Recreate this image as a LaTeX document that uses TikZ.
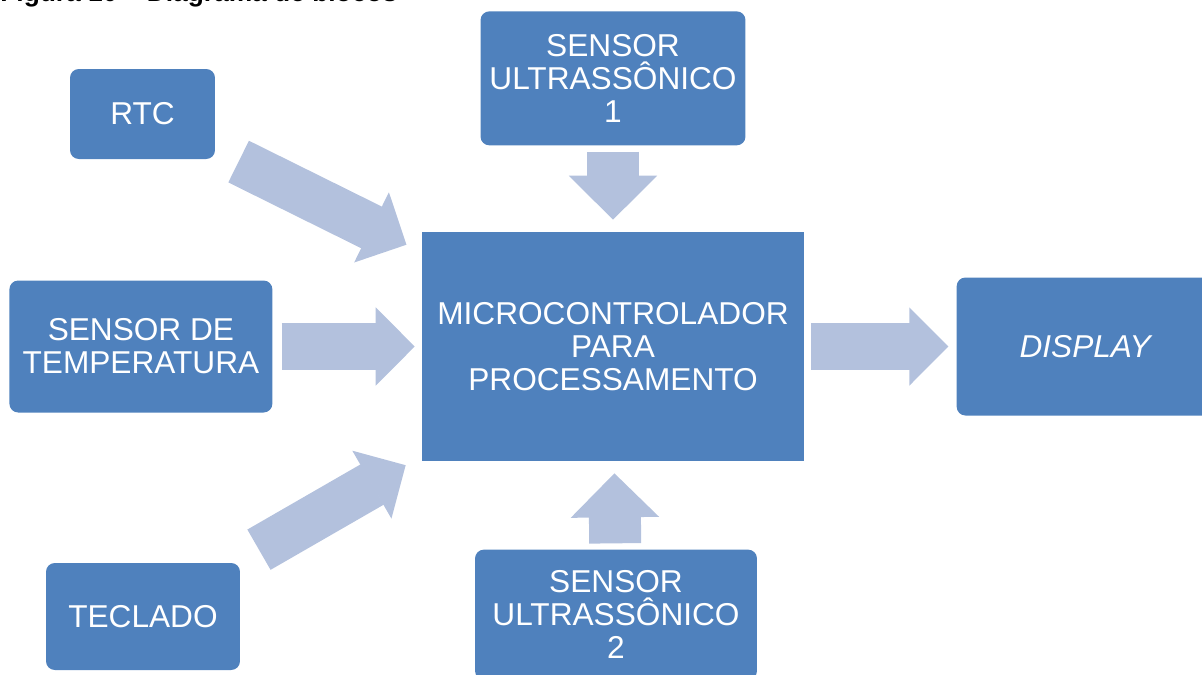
\documentclass[tikz,border=0pt]{standalone}
\usepackage{fontspec}
\setmainfont{Liberation Sans}
\usetikzlibrary{arrows.meta,positioning}
\definecolor{azul}{HTML}{4F81BD}
\definecolor{azulClaro}{HTML}{B3C1DD}
\tikzset{
  bloco/.style={fill=azul, rounded corners=5pt, inner sep=0pt, align=center,
                font=\fontsize{18}{18.7}\selectfont\color{white}},
  seta/.style={draw=azulClaro, line width=0.93cm,
               -{Triangle[length=0.78cm 0 0, width=1.56cm 0 0, line width=1.2pt 0 0]}},
  setaV/.style={draw=azulClaro, line width=1.04cm,
               -{Triangle[length=0.88cm 0 0, width=1.76cm 0 0, line width=1.2pt 0 0]}}
}

\begin{document}
\begin{tikzpicture}[x=0.02cm, y=-0.02cm]
    \useasboundingbox (0,0) rectangle (1202,674);
    \node[anchor=base west, inner sep=0pt, font=\fontsize{15}{15}\selectfont\bfseries]
        (titulo) at (0,1.5) {Figura 10 – Diagrama de blocos};

    \node[bloco, rounded corners=0pt, minimum width=7.64cm, minimum height=4.58cm]
        (micro) at (613,346.5) {MICROCONTROLADOR\\PARA\\PROCESSAMENTO};
    \node[bloco, minimum width=5.3cm, minimum height=2.68cm, above=1.72cm of micro]
        (us1) {SENSOR\\ULTRASSÔNICO\\1};
    \node[bloco, minimum width=5.64cm, minimum height=2.6cm, below=1.76cm of micro, xshift=0.06cm]
        (us2) {SENSOR\\ULTRASSÔNICO\\2};
    \node[bloco, minimum width=5.18cm, minimum height=2.76cm, right=3.04cm of micro]
        (display) {\textit{DISPLAY}};
    \node[bloco, minimum width=5.26cm, minimum height=2.64cm, left=2.98cm of micro]
        (temp) {SENSOR DE\\TEMPERATURA};
    \node[bloco, minimum width=2.9cm, minimum height=1.8cm] (rtc) at (142.5,114) {RTC};
    \node[bloco, minimum width=3.88cm, minimum height=2.14cm] (teclado) at (143,616.5) {TECLADO};

    \draw[seta, shorten <=0.52cm, shorten >=0.34cm] (rtc) -- (micro);
    \draw[seta, shorten <=0.18cm, shorten >=0.14cm] (temp) -- (micro);
    \draw[seta, shorten <=0.52cm, shorten >=0.37cm] (teclado) -- (micro);
    \draw[setaV, shorten <=0.12cm, shorten >=0.24cm] (us1) -- (micro);
    \draw[setaV, shorten <=0.12cm, shorten >=0.24cm] (us2) -- (micro);
    \draw[seta, shorten <=0.14cm, shorten >=0.16cm] (micro) -- (display);
\end{tikzpicture}
\end{document}
